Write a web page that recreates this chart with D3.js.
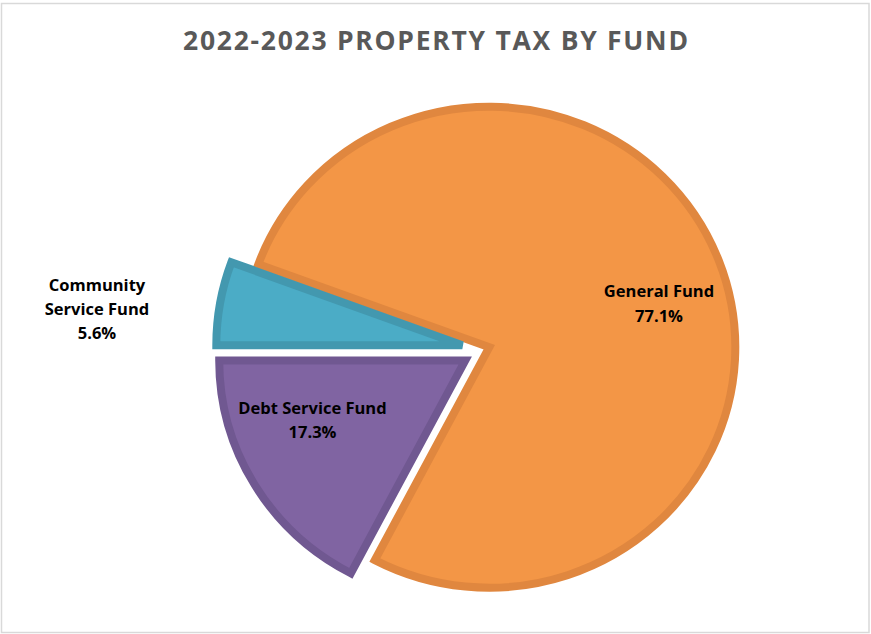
<!DOCTYPE html>
<html>
<head>
<meta charset="utf-8">
<script src="https://cdn.jsdelivr.net/npm/d3@7"></script>
<style>
  body { margin: 0; background: #fff; }
  svg { display: block; }
</style>
</head>
<body>
<svg id="chart" width="871" height="634"></svg>
<script>
// Property tax distribution, FY 2022-2023
const funds = ["General Fund", "Debt Service Fund", "Community Service Fund"];
const shares = [77.1, 17.3, 5.6];           // percent of total levy
const labelLines = [["General Fund"], ["Debt Service Fund"], ["Community", "Service Fund"]];
const chartTitle = "2022-2023 PROPERTY TAX BY FUND";

// Styling
const fills    = ["#F39646", "#8064A2", "#4BACC6"];
const strokes  = ["#E0873F", "#705891", "#4398AF"];
const explodes = [5, 22, 22];               // px each slice is pulled from the centre

const W = 871, H = 634;
const svg = d3.select("#chart");

// Chart frame
svg.append("rect")
  .attr("x", 1.5).attr("y", 3.5)
  .attr("width", W - 3.5).attr("height", H - 5)
  .attr("fill", "#fff")
  .attr("stroke", "#d9d9d9")
  .attr("stroke-width", 1.5);

// Title
svg.append("text")
  .attr("x", 183).attr("y", 50)
  .attr("textLength", 505)
  .attr("lengthAdjust", "spacing")
  .attr("font-family", "'Open Sans', sans-serif")
  .attr("font-weight", 700)
  .attr("font-size", 26.5)
  .attr("fill", "#595959")
  .text(chartTitle);

// Pie geometry (plot area is slightly wider than tall)
const cx = 484.5, cy = 349;
const radius = 240.5;
const stretchX = 1.023;

const deg = Math.PI / 180;
// first slice angle chosen so the last slice closes on the horizontal at 9 o'clock
const total = d3.sum(shares);
const firstAngle = (270 + shares[2] / total * 360) * deg;

const pie = d3.pie()
  .sort(null)
  .value(d => d)
  .startAngle(firstAngle)
  .endAngle(firstAngle + 2 * Math.PI);

const arc = d3.arc().innerRadius(0).outerRadius(radius);
const arcs = pie(shares);

const g = svg.append("g")
  .attr("transform", `translate(${cx},${cy}) scale(${stretchX},1)`);

g.selectAll("path.slice")
  .data(arcs)
  .join("path")
  .attr("class", "slice")
  .attr("transform", (d, i) => {
    const mid = (d.startAngle + d.endAngle) / 2;
    return `translate(${Math.sin(mid) * explodes[i]},${-Math.cos(mid) * explodes[i]})`;
  })
  .attr("d", arc)
  .attr("fill", (d, i) => fills[i])
  .attr("stroke", (d, i) => strokes[i])
  .attr("stroke-width", 8)
  .attr("vector-effect", "non-scaling-stroke")
  .attr("stroke-linejoin", "miter");

// Data labels: name line(s) then percentage
const labelPos = [
  [659, 297.3],   // General Fund, inside
  [312.5, 414],   // Debt Service Fund, inside
  [97, 290.7]     // Community Service Fund, outside left
];
const lineH = 24.3;

arcs.forEach((a, i) => {
  const lines = labelLines[i].concat([d3.format(".1f")(a.data) + "%"]);
  const t = svg.append("text")
    .attr("text-anchor", "middle")
    .attr("font-family", "'Open Sans', sans-serif")
    .attr("font-weight", 700)
    .attr("font-size", 16.5)
    .attr("fill", "#000");
  lines.forEach((s, j) => {
    t.append("tspan")
      .attr("x", labelPos[i][0])
      .attr("y", labelPos[i][1] + j * lineH)
      .text(s);
  });
});
</script>
</body>
</html>
